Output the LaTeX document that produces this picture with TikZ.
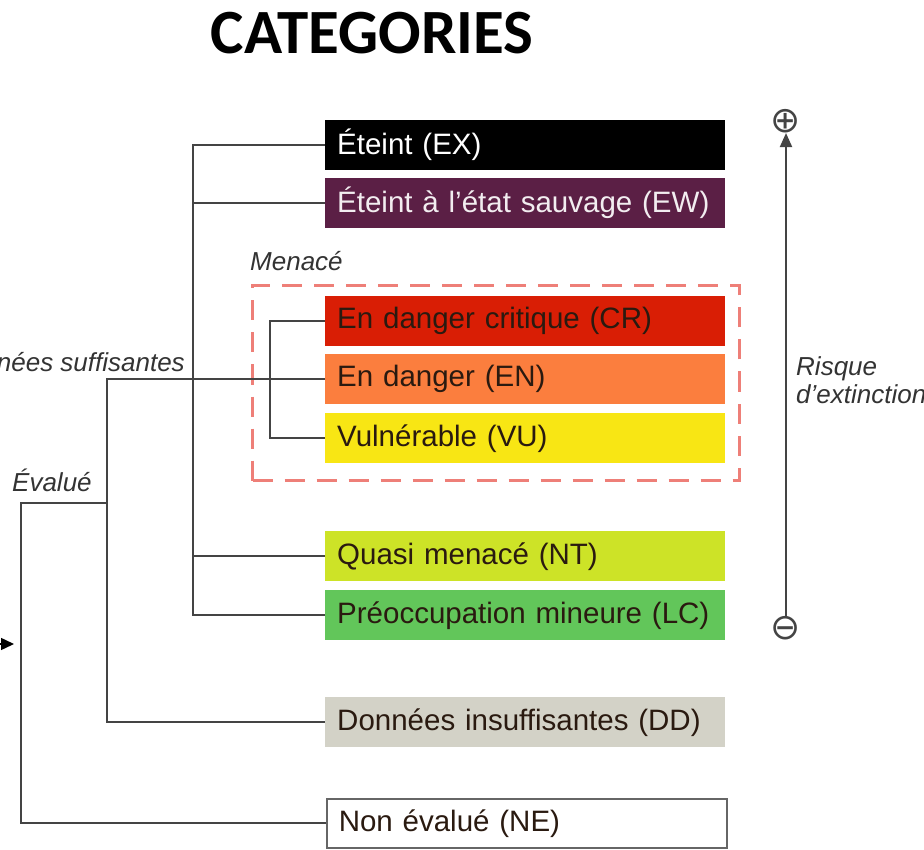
\documentclass[tikz,border=0pt]{standalone}
\usepackage{fontspec}
\setmainfont{Liberation Sans}
\newfontfamily\titlefont{Carlito}
\newfontfamily\symfont{DejaVu Sans}
\usetikzlibrary{arrows.meta}
\definecolor{cEX}{HTML}{000000}
\definecolor{cEW}{HTML}{5B1F45}
\definecolor{cCR}{HTML}{D91E05}
\definecolor{cEN}{HTML}{FB7E3E}
\definecolor{cVU}{HTML}{F8E614}
\definecolor{cNT}{HTML}{CDE327}
\definecolor{cLC}{HTML}{62C65A}
\definecolor{cDD}{HTML}{D3D2C7}
\definecolor{cdash}{HTML}{EE7F78}
\definecolor{cline}{HTML}{444444}
\definecolor{ctxt}{HTML}{2A1A10}
\tikzset{
  catbox/.style={anchor=north west, minimum width=400pt, minimum height=50pt,
    text width=376pt, inner xsep=12pt, align=left, font=\fontsize{29.5}{32}\selectfont,
    text=ctxt, inner ysep=0pt},
  conn/.style={draw=cline, line width=2pt},
  lab/.style={font=\itshape\fontsize{26}{28}\selectfont, text=black!80, inner sep=0pt},
  sym/.style={font=\symfont\fontsize{36}{36}\selectfont, inner sep=0pt, text=cline}
}
\begin{document}
\begin{tikzpicture}[x=1pt,y=-1pt]
\useasboundingbox (0,0) rectangle (924,850);
% title
\node[font=\titlefont\bfseries\fontsize{63}{65}\selectfont] (title) at (372,33) {CATEGORIES};
% boxes
\node[catbox, fill=cEX, text=white] (EX) at (325,120) {Éteint (EX)};
\node[catbox, fill=cEW, text=white!92!cEW] (EW) at (325,178) {Éteint à l'état sauvage (EW)};
\node[catbox, fill=cCR] (CR) at (325,296) {En danger critique (CR)};
\node[catbox, fill=cEN] (EN) at (325,354) {En danger (EN)};
\node[catbox, fill=cVU] (VU) at (325,413) {Vulnérable (VU)};
\node[catbox, fill=cNT] (NT) at (325,531) {Quasi menacé (NT)};
\node[catbox, fill=cLC] (LC) at (325,590) {Préoccupation mineure (LC)};
\node[catbox, fill=cDD] (DD) at (325,697) {Données insuffisantes (DD)};
\node[catbox, fill=white, draw=black!60, line width=1.5pt, minimum width=398pt, minimum height=49pt] (NE) at (326,798) {Non évalué (NE)};
% dashed Menacé frame
\node[draw=cdash, line width=3pt, dash pattern=on 20pt off 12pt, anchor=north west,
  minimum width=487pt, minimum height=195pt, inner sep=0pt] (MEN) at (251,284) {};
\node[lab, anchor=base west] (menlab) at (250,271) {Menacé};
% branch x positions
\coordinate (xA) at (193,0);
\coordinate (xB) at (270,0);
\coordinate (xC) at (107,0);
\coordinate (xD) at (21,0);
\coordinate (yE) at (0,503);
% connectors
\draw[conn] (EX.west) -- (EX.west -| xA) -- (LC.west -| xA) -- (LC.west);
\draw[conn] (EW.west) -- (EW.west -| xA);
\draw[conn] (NT.west) -- (NT.west -| xA);
\draw[conn] (CR.west) -- (CR.west -| xB) -- (VU.west -| xB) -- (VU.west);
\draw[conn] (EN.west) -- (EN.west -| xC) -- (DD.west -| xC) -- (DD.west);
\draw[conn] (yE -| xC) -- (yE -| xD) -- (NE.west -| xD) -- (NE.west);
% labels
\node[lab, anchor=base east] (suff) at (185,372) {Données suffisantes};
\node[lab, anchor=base west] (eval) at (12,491) {Évalué};
% left arrow
\coordinate (aS) at (-10,644);
\coordinate (aE) at (14,644);
\draw[draw=black, line width=1.5pt, -{Triangle[length=13pt,width=12pt]}] (aS) -- (aE);
% risk arrow
\node[sym] (plus) at (786,121) {⊕};
\node[sym] (minus) at (786,628) {⊖};
\draw[draw=cline, line width=2pt, -{Triangle[length=14pt,width=12pt]}] (minus.north) -- (plus.south);
\node[lab, anchor=base west] (risk1) at (796,375) {Risque};
\node[lab, anchor=base west] (risk2) at (796,403) {d'extinction};
\end{tikzpicture}
\end{document}
